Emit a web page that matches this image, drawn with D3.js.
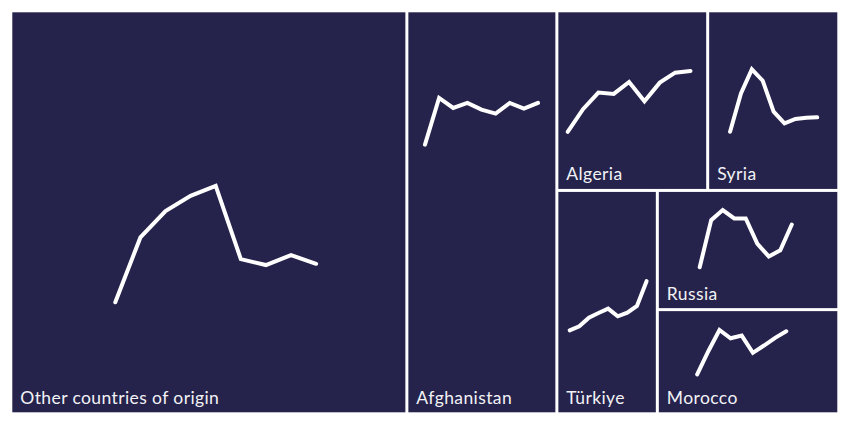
<!DOCTYPE html>
<html>
<head>
<meta charset="utf-8">
<script src="https://cdn.jsdelivr.net/npm/d3@7"></script>
<style>
  html, body { margin: 0; padding: 0; background: #ffffff; }
  svg { display: block; }
  text { font-family: Lato, "Open Sans", sans-serif; }
</style>
</head>
<body>
<svg id="chart" width="850" height="425"></svg>
<script>
// ---------------- DATA ----------------
const countries = ["Other countries of origin", "Afghanistan", "Algeria", "Syria", "Türkiye", "Russia", "Morocco"];
const totals    = [157.9, 59.8, 26.8, 23.3, 22.2, 21.4, 18.7];   // size of each tile (thousands)
const years     = [2015, 2016, 2017, 2018, 2019, 2020, 2021, 2022, 2023];

// relative yearly values read from each sparkline
const seriesOther       = [0, 65.0, 91.3, 106.6, 116.6, 43.3, 37.3, 47.3, 38.6];
const seriesAfghanistan = [0, 46.7, 36.7, 41.7, 35.0, 31.0, 41.7, 36.0, 41.7];
const seriesAlgeria     = [0, 22.7, 39.3, 38.0, 50.0, 30.7, 49.3, 59.3, 61.0];
const seriesSyria       = [0, 38.4, 62.4, 51.0, 20.0, 8.4, 12.7, 14.0, 14.4];
const seriesTurkiye     = [0, 4.0, 12.6, 17.3, 21.6, 14.0, 17.6, 24.3, 49.0];
const seriesRussia      = [0, 46.7, 56.7, 48.4, 48.4, 23.4, 10.7, 16.7, 42.4];
const seriesMorocco     = [0, 23.3, 44.7, 36.3, 39.0, 21.7, 29.0, 36.7, 43.3];
const allSeries = [seriesOther, seriesAfghanistan, seriesAlgeria, seriesSyria, seriesTurkiye, seriesRussia, seriesMorocco];

// ---------------- LAYOUT CONFIG ----------------
// nesting of the tiles (slice/dice alternates by depth)
const nesting = [0, 1, [[2, 3], [4, [5, 6]]]];
// sparkline box inside each tile, as fractions of the tile [x0, x1, yTop, yBottom]
const sparkBox = [
  [0.262, 0.773, 0.434, 0.725],
  [0.113, 0.882, 0.214, 0.331],
  [0.063, 0.894, 0.332, 0.677],
  [0.163, 0.843, 0.323, 0.676],
  [0.116, 0.905, 0.405, 0.628],
  [0.229, 0.745, 0.156, 0.648],
  [0.215, 0.714, 0.186, 0.625]
];
const W = 825, H = 400, OX = 12.3, OY = 12.3;
const fillColor = "#25234b";

// ---------------- BUILD ----------------
function build(node) {
  if (Array.isArray(node)) return { children: node.map(build) };
  return { idx: node, name: countries[node], value: totals[node] };
}
const root = d3.hierarchy(build(nesting)).sum(d => d.value || 0);

d3.treemap()
  .tile(d3.treemapSliceDice)
  .size([W, H])
  .paddingInner(3)
  .round(false)(root);

const svg = d3.select("#chart");
const g = svg.append("g").attr("transform", `translate(${OX},${OY})`);

const leaves = g.selectAll("g.leaf")
  .data(root.leaves())
  .join("g")
  .attr("class", "leaf");

leaves.append("rect")
  .attr("x", d => d.x0)
  .attr("y", d => d.y0)
  .attr("width", d => d.x1 - d.x0)
  .attr("height", d => d.y1 - d.y0)
  .attr("fill", fillColor);

leaves.each(function(d) {
  const i = d.data.idx;
  const b = sparkBox[i];
  const w = d.x1 - d.x0, h = d.y1 - d.y0;
  const vals = allSeries[i];
  const x = d3.scaleLinear()
    .domain(d3.extent(years))
    .range([d.x0 + b[0] * w, d.x0 + b[1] * w]);
  const y = d3.scaleLinear()
    .domain(d3.extent(vals))
    .range([d.y0 + b[3] * h, d.y0 + b[2] * h]);
  const line = d3.line()
    .x((v, k) => x(years[k]))
    .y(v => y(v));
  d3.select(this).append("path")
    .attr("d", line(vals))
    .attr("fill", "none")
    .attr("stroke", "#ffffff")
    .attr("stroke-width", 4)
    .attr("stroke-linecap", "round")
    .attr("stroke-linejoin", "miter");

  d3.select(this).append("text")
    .attr("x", d.x0 + 8)
    .attr("y", d.y1 - 8.5)
    .attr("fill", "#f2f2f6")
    .attr("font-size", 17.5)
    .attr("letter-spacing", 0.4)
    .text(d.data.name);
});
</script>
</body>
</html>
